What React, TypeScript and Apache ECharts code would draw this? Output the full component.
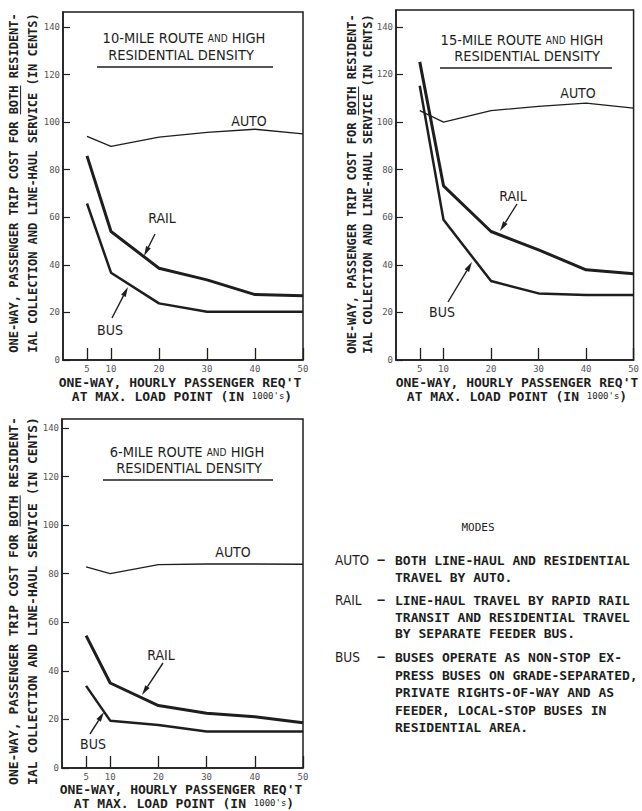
import React, { useEffect, useRef } from "react";
import * as echarts from "echarts";

// ---- data ----
const xValues = [5, 10, 20, 30, 40, 50];
const xTicks = [5, 10, 20, 30, 40, 50];
const yTicks = [0, 20, 40, 60, 80, 100, 120, 140];

// 10-mile route
const auto10 = [94, 89.8, 93.7, 95.7, 97, 95.1];
const rail10 = [85.8, 54, 38.6, 33.7, 27.5, 27];
const bus10 = [65.8, 36.7, 23.8, 20.3, 20.3, 20.3];
// 15-mile route
const auto15 = [104.8, 100, 104.8, 106.6, 108, 105.9];
const rail15 = [125.3, 73.2, 54, 46.3, 37.9, 36.2];
const bus15 = [115.3, 58.9, 33.2, 28, 27.3, 27.3];
// 6-mile route
const auto6 = [82.8, 80, 83.7, 84, 84, 83.9];
const rail6 = [54.5, 35, 25.7, 22.5, 21.1, 18.6];
const bus6 = [33.8, 19.5, 17.7, 15, 15, 15];

const titles = ["10-MILE ROUTE ", "15-MILE ROUTE ", "6-MILE ROUTE "];
const yTitle1 = "ONE-WAY, PASSENGER TRIP COST FOR BOTH RESIDENT-";
const yTitle2 = "IAL COLLECTION AND LINE-HAUL SERVICE (IN CENTS)";
const xTitle1 = "ONE-WAY, HOURLY PASSENGER REQ'T";

const legendRows = [
  { name: "AUTO", lines: ["BOTH LINE-HAUL AND RESIDENTIAL", "TRAVEL BY AUTO."] },
  { name: "RAIL", lines: ["LINE-HAUL TRAVEL BY RAPID RAIL", "TRANSIT AND RESIDENTIAL TRAVEL", "BY SEPARATE FEEDER BUS."] },
  { name: "BUS", lines: ["BUSES OPERATE AS NON-STOP EX-", "PRESS BUSES ON GRADE-SEPARATED,", "PRIVATE RIGHTS-OF-WAY AND AS", "FEEDER, LOCAL-STOP BUSES IN", "RESIDENTIAL AREA."] },
];

const MONO = '"DejaVu Sans Mono", "Liberation Mono", monospace';
const LETTER = '"Liberation Sans Narrow", "DejaVu Sans Condensed", "Liberation Sans", sans-serif';
const INK = "#1e1e1e";

const zip = (ys: number[]) => xValues.map((x, i) => [x, ys[i]]);

// layout of the three panels
const panels = [
  { left: 63, top: 12, width: 240, height: 348, yMax: 146.3, data: [auto10, rail10, bus10] },
  { left: 396, top: 10, width: 241, height: 350, yMax: 147.1, data: [auto15, rail15, bus15] },
  { left: 62, top: 419, width: 241, height: 349, yMax: 143.7, data: [auto6, rail6, bus6] },
];

function arrow(x1: number, y1: number, x2: number, y2: number) {
  const dx = x2 - x1, dy = y2 - y1;
  const len = Math.sqrt(dx * dx + dy * dy);
  const ux = dx / len, uy = dy / len;
  const hl = 10, hw = 2.6;
  const bx = x2 - ux * hl, by = y2 - uy * hl;
  const nx = -uy, ny = ux;
  return [
    { type: "line", shape: { x1, y1, x2: bx, y2: by }, style: { stroke: INK, lineWidth: 1.4 } },
    {
      type: "polygon",
      shape: { points: [[x2, y2], [bx + nx * hw, by + ny * hw], [bx - nx * hw, by - ny * hw]] },
      style: { fill: INK },
    },
  ];
}

function txt(x: number, y: number, text: string, opts: any = {}) {
  return {
    type: "text",
    x,
    y,
    rotation: opts.rotation || 0,
    style: {
      text,
      fontSize: opts.size || 13,
      fontFamily: opts.family || MONO,
      fontWeight: opts.weight || "normal",
      fill: opts.color || INK,
      align: opts.align || "center",
      verticalAlign: opts.valign || "middle",
      lineHeight: opts.lineHeight,
      rich: opts.rich,
    },
  };
}

function yTitle(cx1: number, cx2: number, cy: number, size: number) {
  const cw = size * 0.602;
  const L = yTitle1.length * cw;
  const yb = cy + L / 2;
  const bStart = yTitle1.indexOf("BOTH");
  return [
    txt(cx1, cy, yTitle1, { rotation: Math.PI / 2, size, weight: "bold" }),
    txt(cx2, cy, yTitle2, { rotation: Math.PI / 2, size, weight: "bold" }),
    {
      type: "line",
      shape: { x1: cx1 + size * 0.55, y1: yb - bStart * cw, x2: cx1 + size * 0.55, y2: yb - (bStart + 4) * cw },
      style: { stroke: INK, lineWidth: 1 },
    },
  ];
}

function xTitle(cx1: number, y1: number, cx2: number, y2: number, size: number) {
  return [
    txt(cx1, y1, xTitle1, { size, weight: "bold", lineHeight: size }),
    txt(cx2, y2, "{a|AT MAX. LOAD POINT (IN }{s|1000's}{a|)}", {
      size,
      weight: "bold",
      rich: {
        a: { fontSize: size, fontFamily: MONO, fontWeight: "bold", fill: INK, lineHeight: size },
        s: { fontSize: size - 4, fontFamily: MONO, fill: INK, lineHeight: size },
      },
    }),
  ];
}

function panelTitle(i: number, cx1: number, y1: number, cx2: number, y2: number, uy: number, ux1: number, ux2: number) {
  return [
    txt(cx1, y1, `{a|${titles[i]}}{b|AND}{a| HIGH}`, {
      family: LETTER,
      size: 14.5,
      rich: {
        a: { fontSize: 14.5, fontFamily: LETTER, fill: INK, lineHeight: 14 },
        b: { fontSize: 10, fontFamily: LETTER, fill: INK, lineHeight: 14 },
      },
    }),
    txt(cx2, y2, "RESIDENTIAL DENSITY", { family: LETTER, size: 14.5, lineHeight: 14 }),
    { type: "line", shape: { x1: ux1, y1: uy, x2: ux2, y2: uy }, style: { stroke: INK, lineWidth: 1.5 } },
  ];
}

function label(x: number, y: number, t: string) {
  return txt(x, y, t, { family: LETTER, size: 14 });
}

export default function App() {
  const ref = useRef<HTMLDivElement>(null);
  useEffect(() => {
    if (!ref.current) return;
    const chart = echarts.init(ref.current, undefined, { renderer: "svg" });

    const grid = panels.map((p) => ({
      left: p.left,
      top: p.top,
      width: p.width,
      height: p.height,
      show: true,
      borderColor: INK,
      borderWidth: 1.5,
      backgroundColor: "transparent",
    }));
    const xAxis = panels.map((p, i) => ({
      type: "value",
      gridIndex: i,
      min: 0,
      max: 50,
      axisLine: { show: true, lineStyle: { color: INK, width: 1.5 } },
      axisTick: { show: true, inside: true, length: 12, customValues: xTicks, lineStyle: { color: INK, width: 1.3 } },
      axisLabel: { customValues: xTicks, fontSize: 9, fontFamily: MONO, color: "#555", margin: 4 },
      splitLine: { show: false },
    }));
    const yAxis = panels.map((p, i) => ({
      type: "value",
      gridIndex: i,
      min: 0,
      max: p.yMax,
      axisLine: { show: true, lineStyle: { color: INK, width: 1.5 } },
      axisTick: { show: true, inside: true, length: 7, customValues: yTicks, lineStyle: { color: INK, width: 1.2 } },
      axisLabel: { customValues: yTicks, fontSize: 9, fontFamily: MONO, color: "#555", margin: 3 },
      splitLine: { show: false },
    }));
    const widths = [1.3, 3, 2.5];
    const names = ["AUTO", "RAIL", "BUS"];
    const series: any[] = [];
    panels.forEach((p, i) => {
      p.data.forEach((d, k) => {
        series.push({
          type: "line",
          name: names[k],
          xAxisIndex: i,
          yAxisIndex: i,
          data: zip(d),
          showSymbol: false,
          symbol: "none",
          lineStyle: { color: INK, width: widths[k] },
          silent: true,
        });
      });
    });

    const legendEls: any[] = [txt(478, 527, "MODES", { size: 11 })];
    const rowYs = [[560, 577], [600, 617, 633], [657, 675, 692, 710, 727]];
    legendRows.forEach((r, i) => {
      const ys = rowYs[i];
      legendEls.push(txt(335, ys[0], r.name, { family: LETTER, size: 13.5, align: "left", lineHeight: 14 }));
      legendEls.push(txt(381, ys[0], "–", { size: 12, weight: "bold", lineHeight: 12 }));
      r.lines.forEach((l, j) => {
        legendEls.push(txt(395, ys[j], l, { size: 13, weight: "bold", align: "left", lineHeight: 13 }));
      });
    });

    const graphic: any[] = [
      ...panelTitle(0, 184, 38, 181, 55, 67, 97, 273),
      ...panelTitle(1, 522, 40, 527, 56, 68, 440, 612),
      ...panelTitle(2, 187, 452, 189, 468, 480, 103, 273),
      label(249, 121, "AUTO"),
      label(162, 218, "RAIL"),
      label(110, 330, "BUS"),
      ...arrow(155, 234, 144, 256),
      ...arrow(112, 318, 128, 287),
      label(578, 93, "AUTO"),
      label(513, 196, "RAIL"),
      label(442, 312, "BUS"),
      ...arrow(517, 204, 500, 231),
      ...arrow(448, 302, 472, 262),
      label(233, 552, "AUTO"),
      label(161, 655, "RAIL"),
      label(93, 744, "BUS"),
      ...arrow(163, 663, 142, 695),
      ...arrow(90, 734, 104, 712),
      ...yTitle(14, 33, 183, 12),
      ...yTitle(352, 368, 184, 12),
      ...yTitle(13, 32, 601, 13),
      ...xTitle(180, 382, 182, 396, 13),
      ...xTitle(517, 382, 517, 396, 13),
      ...xTitle(181, 789, 184, 803, 13),
      ...legendEls,
    ];

    chart.setOption({
      animation: false,
      backgroundColor: "#ffffff",
      grid,
      xAxis,
      yAxis,
      series,
      graphic,
    });
    return () => chart.dispose();
  }, []);

  return (
    <div
      ref={ref}
      style={{ position: "absolute", left: 0, top: 0, width: 642, height: 811 }}
    />
  );
}
